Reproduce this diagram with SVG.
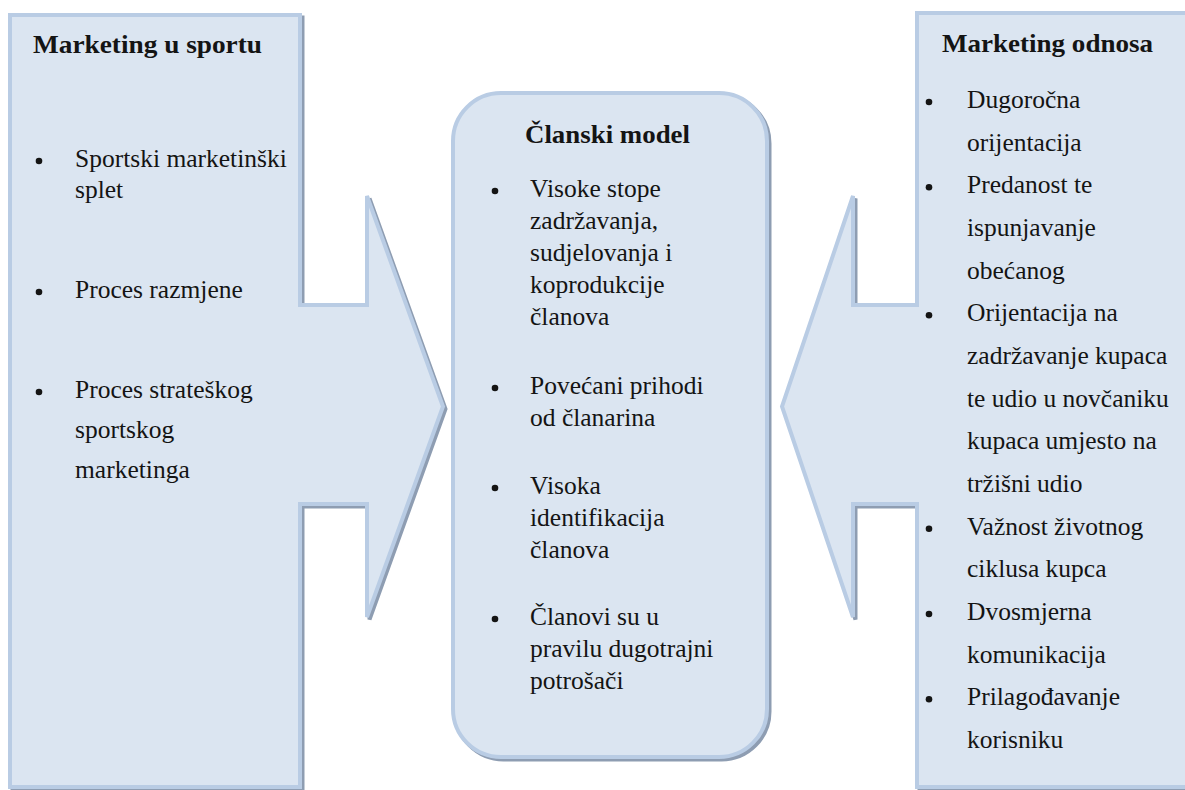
<svg xmlns="http://www.w3.org/2000/svg" width="1185" height="790" viewBox="0 0 1185 790">
<style>
.shape{fill:#DBE5F1;stroke:#B9CCE4;stroke-width:4;stroke-linejoin:miter}
.shadow{fill:#8E9DB2;stroke:#8E9DB2;stroke-width:4;stroke-linejoin:miter}
text{font-family:'Liberation Serif','Times New Roman',serif;fill:#141414}
.t{font-size:25.5px}
.h{font-size:26px;font-weight:bold}
.b{fill:#141414}
</style>
<defs>
<path id="leftShape" d="M10,15 H300 V305 H367 V196 L443,406.5 L367,617 V504 H300 V787 H10 Z"/>
<path id="rightShape" d="M1195,13 H917 V305 H853 V196 L782,406.5 L853,617 V504 H917 V787 H1195 Z"/>
<rect id="centerShape" x="453" y="93" width="314" height="664" rx="48" ry="48"/>
</defs>
<rect width="1185" height="790" fill="#FFFFFF"/>

<g id="node-marketing-u-sportu">
<use href="#leftShape" class="shadow" transform="translate(2.5,2.5)"/>
<use href="#leftShape" class="shape"/>
<text class="h" x="33" y="53" textLength="229" lengthAdjust="spacingAndGlyphs">Marketing u sportu</text>
<circle class="b" cx="39" cy="161" r="3.3"/>
<text class="t" x="75" y="167">Sportski marketinški</text>
<text class="t" x="75" y="198">splet</text>
<circle class="b" cx="39" cy="292" r="3.3"/>
<text class="t" x="75" y="298">Proces razmjene</text>
<circle class="b" cx="39" cy="392" r="3.3"/>
<text class="t" x="75" y="398">Proces strateškog</text>
<text class="t" x="75" y="438">sportskog</text>
<text class="t" x="75" y="478">marketinga</text>
</g>

<g id="node-marketing-odnosa">
<use href="#rightShape" class="shadow" transform="translate(2.5,2.5)"/>
<use href="#rightShape" class="shape"/>
<text class="h" x="942" y="52" textLength="211" lengthAdjust="spacingAndGlyphs">Marketing odnosa</text>
<circle class="b" cx="929" cy="102" r="3.3"/>
<text class="t" x="967" y="108">Dugoročna</text>
<text class="t" x="967" y="150.7">orijentacija</text>
<circle class="b" cx="929" cy="187.3" r="3.3"/>
<text class="t" x="967" y="193.3">Predanost te</text>
<text class="t" x="967" y="236">ispunjavanje</text>
<text class="t" x="967" y="278.7">obećanog</text>
<circle class="b" cx="929" cy="315.3" r="3.3"/>
<text class="t" x="967" y="321.3">Orijentacija na</text>
<text class="t" x="967" y="364">zadržavanje kupaca</text>
<text class="t" x="967" y="406.7">te udio u novčaniku</text>
<text class="t" x="967" y="449.3">kupaca umjesto na</text>
<text class="t" x="967" y="492">tržišni udio</text>
<circle class="b" cx="929" cy="528.7" r="3.3"/>
<text class="t" x="967" y="534.7">Važnost životnog</text>
<text class="t" x="967" y="577.3">ciklusa kupca</text>
<circle class="b" cx="929" cy="614" r="3.3"/>
<text class="t" x="967" y="620">Dvosmjerna</text>
<text class="t" x="967" y="662.7">komunikacija</text>
<circle class="b" cx="929" cy="699.3" r="3.3"/>
<text class="t" x="967" y="705.3">Prilagođavanje</text>
<text class="t" x="967" y="748">korisniku</text>
</g>

<g id="node-clanski-model">
<use href="#centerShape" class="shadow" transform="translate(2.5,2.5)"/>
<use href="#centerShape" class="shape"/>
<text class="h" x="525" y="143" textLength="165" lengthAdjust="spacingAndGlyphs">Članski model</text>
<circle class="b" cx="495" cy="191" r="3.3"/>
<text class="t" x="530" y="197">Visoke stope</text>
<text class="t" x="530" y="229">zadržavanja,</text>
<text class="t" x="530" y="261">sudjelovanja i</text>
<text class="t" x="530" y="293">koprodukcije</text>
<text class="t" x="530" y="325">članova</text>
<circle class="b" cx="495" cy="388" r="3.3"/>
<text class="t" x="530" y="394">Povećani prihodi</text>
<text class="t" x="530" y="426">od članarina</text>
<circle class="b" cx="495" cy="488" r="3.3"/>
<text class="t" x="530" y="494">Visoka</text>
<text class="t" x="530" y="526">identifikacija</text>
<text class="t" x="530" y="558">članova</text>
<circle class="b" cx="495" cy="619" r="3.3"/>
<text class="t" x="530" y="625">Članovi su u</text>
<text class="t" x="530" y="657">pravilu dugotrajni</text>
<text class="t" x="530" y="689">potrošači</text>
</g>

<g id="connectors"></g>
</svg>
